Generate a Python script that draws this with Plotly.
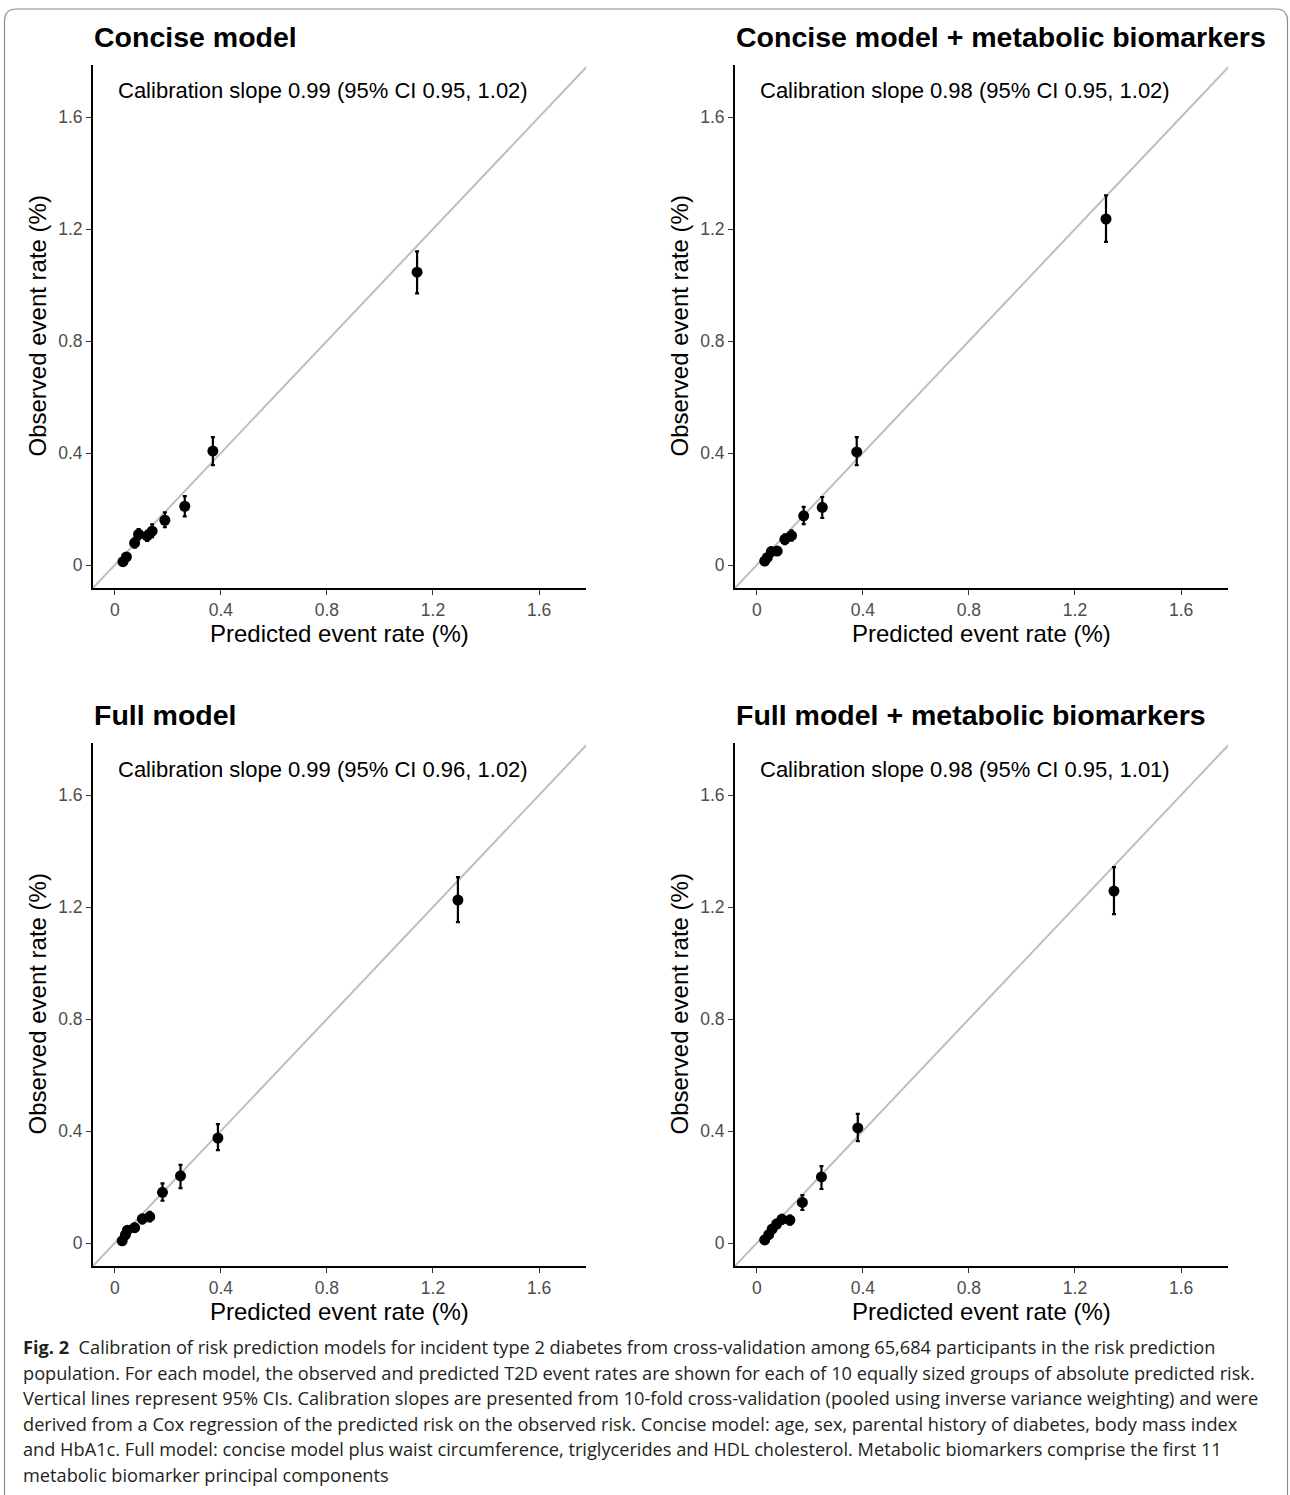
import plotly.graph_objects as go

# ---------------- data ----------------
panel_titles = ["Concise model", "Concise model + metabolic biomarkers",
                "Full model", "Full model + metabolic biomarkers"]
slope_texts = ["Calibration slope 0.99 (95% CI 0.95, 1.02)",
               "Calibration slope 0.98 (95% CI 0.95, 1.02)",
               "Calibration slope 0.99 (95% CI 0.96, 1.02)",
               "Calibration slope 0.98 (95% CI 0.95, 1.01)"]

concise_pred = [0.031, 0.044, 0.075, 0.090, 0.122, 0.141, 0.189, 0.264, 0.370, 1.140]
concise_obs = [0.012, 0.029, 0.079, 0.110, 0.104, 0.121, 0.160, 0.210, 0.407, 1.046]
concise_lo = [0.003, 0.017, 0.062, 0.092, 0.086, 0.100, 0.135, 0.174, 0.357, 0.970]
concise_hi = [0.022, 0.042, 0.097, 0.128, 0.122, 0.145, 0.188, 0.246, 0.457, 1.120]

concmet_pred = [0.030, 0.040, 0.055, 0.077, 0.106, 0.131, 0.177, 0.247, 0.377, 1.317]
concmet_obs = [0.014, 0.027, 0.048, 0.050, 0.092, 0.105, 0.176, 0.206, 0.404, 1.236]
concmet_lo = [0.005, 0.016, 0.034, 0.036, 0.075, 0.087, 0.146, 0.168, 0.357, 1.154]
concmet_hi = [0.023, 0.038, 0.062, 0.064, 0.110, 0.124, 0.208, 0.243, 0.457, 1.320]

full_pred = [0.028, 0.040, 0.048, 0.075, 0.104, 0.132, 0.180, 0.248, 0.389, 1.294]
full_obs = [0.008, 0.029, 0.046, 0.055, 0.086, 0.094, 0.181, 0.240, 0.375, 1.225]
full_lo = [0.000, 0.018, 0.033, 0.041, 0.070, 0.077, 0.151, 0.196, 0.332, 1.146]
full_hi = [0.017, 0.040, 0.059, 0.069, 0.102, 0.111, 0.213, 0.279, 0.425, 1.307]

fullmet_pred = [0.030, 0.045, 0.058, 0.075, 0.095, 0.125, 0.172, 0.244, 0.381, 1.347]
fullmet_obs = [0.011, 0.030, 0.050, 0.068, 0.085, 0.082, 0.145, 0.236, 0.411, 1.257]
fullmet_lo = [0.002, 0.019, 0.037, 0.053, 0.069, 0.066, 0.118, 0.193, 0.364, 1.175]
fullmet_hi = [0.020, 0.041, 0.063, 0.083, 0.101, 0.098, 0.171, 0.275, 0.461, 1.343]

tick_vals = [0, 0.4, 0.8, 1.2, 1.6]
tick_text = ["0", "0.4", "0.8", "1.2", "1.6"]
x_title = "Predicted event rate (%)"
y_title = "Observed event rate (%)"

caption_lines = [
    "<b>Fig. 2</b>  Calibration of risk prediction models for incident type 2 diabetes from cross-validation among 65,684 participants in the risk prediction",
    "population. For each model, the observed and predicted T2D event rates are shown for each of 10 equally sized groups of absolute predicted risk.",
    "Vertical lines represent 95% CIs. Calibration slopes are presented from 10-fold cross-validation (pooled using inverse variance weighting) and were",
    "derived from a Cox regression of the predicted risk on the observed risk. Concise model: age, sex, parental history of diabetes, body mass index",
    "and HbA1c. Full model: concise model plus waist circumference, triglycerides and HDL cholesterol. Metabolic biomarkers comprise the first 11",
    "metabolic biomarker principal components",
]

panels = [
    (concise_pred, concise_obs, concise_lo, concise_hi),
    (concmet_pred, concmet_obs, concmet_lo, concmet_hi),
    (full_pred, full_obs, full_lo, full_hi),
    (fullmet_pred, fullmet_obs, fullmet_lo, fullmet_hi),
]

# ---------------- layout geometry (pixels) ----------------
W, H = 1290, 1495
X_RANGE = [-0.082, 1.777]
Y_RANGE = [-0.082, 1.786]
# panel pixel boxes: (left, right, top, bottom)
boxes = [(93, 586, 65, 588), (735, 1228, 65, 588),
         (93, 586, 743, 1266), (735, 1228, 743, 1266)]


def px(x):
    return x / W


def py(y):
    return 1 - y / H


FONT = "Liberation Sans, Arial, Helvetica, sans-serif"
CAP_FONT = "Open Sans, Noto Sans, sans-serif"

fig = go.Figure()
annotations = []
layout = {}

for i, ((pred, obs, lo, hi), (l, r, t, b)) in enumerate(zip(panels, boxes)):
    k = "" if i == 0 else str(i + 1)
    xa, ya = "x" + k, "y" + k
    # diagonal reference line y = x (spanning the axis range, clipped)
    lim = [min(X_RANGE[0], Y_RANGE[0]), max(X_RANGE[1], Y_RANGE[1])]
    fig.add_trace(go.Scatter(x=lim, y=lim, mode="lines",
                             line=dict(color="#BEBEBE", width=2),
                             xaxis=xa, yaxis=ya, showlegend=False,
                             hoverinfo="skip"))
    fig.add_trace(go.Scatter(
        x=pred, y=obs, mode="markers",
        marker=dict(color="black", size=11),
        error_y=dict(type="data", symmetric=False,
                     array=[h - o for h, o in zip(hi, obs)],
                     arrayminus=[o - v for o, v in zip(obs, lo)],
                     color="black", thickness=2.2, width=2),
        xaxis=xa, yaxis=ya, showlegend=False, cliponaxis=False))

    axis_common = dict(showgrid=False, zeroline=False, showline=True,
                       linecolor="black", linewidth=1.8, ticks="outside",
                       ticklen=5, tickwidth=1.4, tickcolor="#333333",
                       tickvals=tick_vals, ticktext=tick_text,
                       tickfont=dict(family=FONT, size=17.5, color="#4D4D4D"),
                       mirror=False, fixedrange=True)
    layout["xaxis" + k] = dict(axis_common, domain=[px(l), px(r)],
                               range=X_RANGE, anchor=ya)
    layout["yaxis" + k] = dict(axis_common, domain=[py(b), py(t)],
                               range=Y_RANGE, anchor=xa)

    # panel title
    annotations.append(dict(text="<b>" + panel_titles[i] + "</b>", xref="paper",
                            yref="paper", x=px(l - 1), y=py(t - 28),
                            xanchor="left", yanchor="middle", showarrow=False,
                            font=dict(family=FONT, size=28.5, color="black")))
    # calibration slope text
    annotations.append(dict(text=slope_texts[i], xref="paper", yref="paper",
                            x=px(l + 23), y=py(t + 26), xanchor="left",
                            yanchor="middle", showarrow=False,
                            font=dict(family=FONT, size=22, color="black")))
    # axis titles
    annotations.append(dict(text=x_title, xref="paper", yref="paper",
                            x=px((l + r) / 2), y=py(b + 45), xanchor="center",
                            yanchor="middle", showarrow=False,
                            font=dict(family=FONT, size=24, color="black")))
    annotations.append(dict(text=y_title, xref="paper", yref="paper",
                            x=px(l - 56), y=py((t + b) / 2), xanchor="center",
                            yanchor="middle", textangle=-90, showarrow=False,
                            font=dict(family=FONT, size=24, color="black")))

# caption
for j, line in enumerate(caption_lines):
    annotations.append(dict(text=line, xref="paper", yref="paper",
                            x=px(21), y=py(1347 + j * 25.6), xanchor="left",
                            yanchor="middle", showarrow=False,
                            font=dict(family=CAP_FONT, size=18.2, color="#231F20")))

# rounded border box
L, T, R, B, rr = px(4.5), py(9), px(1287.5), py(1520), 12
rx, ry = rr / W, rr / H
path = (f"M {L},{B} L {L},{T - ry} Q {L},{T} {L + rx},{T} "
        f"L {R - rx},{T} Q {R},{T} {R},{T - ry} L {R},{B}")
shapes = [dict(type="path", path=path, xref="paper", yref="paper",
               line=dict(color="#8C8C8C", width=1.2))]

fig.update_layout(width=W, height=H, margin=dict(l=0, r=0, t=0, b=0),
                  paper_bgcolor="white", plot_bgcolor="white",
                  annotations=annotations, shapes=shapes, showlegend=False,
                  **layout)

fig.write_html("out.html", config={"displayModeBar": False},
               post_script="document.body.style.margin='0';document.body.style.padding='0';")
